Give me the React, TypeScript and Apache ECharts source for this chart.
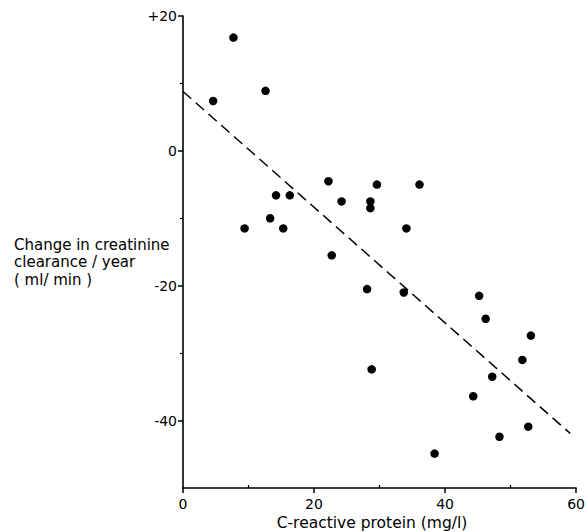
import React, { useEffect, useRef } from "react";
import * as echarts from "echarts";

// C-reactive protein (mg/l)
const crpValues = [
  4.6, 7.7, 12.6, 9.4, 13.3, 14.2, 15.3, 16.3, 22.2, 22.7, 24.2, 28.6, 28.6, 29.6,
  28.1, 34.1, 36.1, 33.7, 45.2, 46.2, 53.1, 51.8, 28.8, 47.2, 44.3, 52.7, 48.3, 38.4,
];
// Change in creatinine clearance / year (ml/min)
const clearanceChange = [
  7.4, 16.8, 8.9, -11.5, -10.0, -6.6, -11.5, -6.6, -4.5, -15.5, -7.5, -7.5, -8.5, -5.0,
  -20.5, -11.5, -5.0, -21.0, -21.5, -24.9, -27.4, -31.0, -32.4, -33.5, -36.4, -40.9, -42.4, -44.9,
];
// Regression line end points
const trendX = [0, 59.1];
const trendY = [8.8, -41.9];

const xMajorTicks = [0, 20, 40, 60];
const xMinorTicks = [10, 30, 50];
const yMajorTicks = [20, 0, -20, -40];
const yMinorTicks = [10, -10, -30];

const yTitleLines = ["Change in creatinine", "clearance / year", "( ml/ min )"];
const xTitle = "C-reactive protein (mg/l)";

const FONT = "DejaVu Sans";

export default function App() {
  const ref = useRef<HTMLDivElement>(null);

  useEffect(() => {
    if (!ref.current) return;
    const chart = echarts.init(ref.current, null, { renderer: "svg" });
    const scatterData = crpValues.map((x, i) => [x, clearanceChange[i]]);
    const lineData = trendX.map((x, i) => [x, trendY[i]]);

    chart.setOption({
      animation: false,
      backgroundColor: "#ffffff",
      grid: { left: 183, right: 8, top: 16, bottom: 44, containLabel: false },
      xAxis: [
        {
          type: "value",
          position: "bottom",
          min: 0,
          max: 60,
          interval: 20,
          axisLine: { show: true, onZero: false, lineStyle: { color: "#000", width: 1.6 } },
          axisTick: { show: true, inside: false, length: 5, customValues: xMajorTicks, lineStyle: { color: "#000", width: 1.5 } },
          axisLabel: { show: true, margin: 9, color: "#000", fontSize: 14, fontFamily: FONT, customValues: xMajorTicks },
          splitLine: { show: false },
        },
        {
          type: "value",
          position: "bottom",
          min: 0,
          max: 60,
          axisLine: { show: false, onZero: false },
          axisTick: { show: true, inside: true, length: 3, customValues: xMinorTicks, lineStyle: { color: "#000", width: 1.2 } },
          axisLabel: { show: false },
          splitLine: { show: false },
        },
      ],
      yAxis: [
        {
          type: "value",
          position: "left",
          min: -50,
          max: 20,
          axisLine: { show: true, onZero: false, lineStyle: { color: "#000", width: 1.6 } },
          axisTick: { show: true, inside: false, length: 5, customValues: yMajorTicks, lineStyle: { color: "#000", width: 1.5 } },
          axisLabel: {
            show: true,
            margin: 6,
            color: "#000",
            fontSize: 14,
            fontFamily: FONT,
            customValues: yMajorTicks,
            formatter: (v: number) => (v > 0 ? "+" + v : String(v)),
          },
          splitLine: { show: false },
        },
        {
          type: "value",
          position: "left",
          min: -50,
          max: 20,
          axisLine: { show: false, onZero: false },
          axisTick: { show: true, inside: false, length: 3, customValues: yMinorTicks, lineStyle: { color: "#000", width: 1.2 } },
          axisLabel: { show: false },
          splitLine: { show: false },
        },
      ],
      series: [
        {
          type: "line",
          data: lineData,
          xAxisIndex: 0,
          yAxisIndex: 0,
          symbol: "none",
          lineStyle: { color: "#000", width: 1.5, type: [11, 6] },
          silent: true,
        },
        {
          type: "scatter",
          data: scatterData,
          xAxisIndex: 0,
          yAxisIndex: 0,
          symbol: "circle",
          symbolSize: 8.5,
          itemStyle: { color: "#000", opacity: 1 },
        },
      ],
      graphic: [
        {
          type: "text",
          left: 14,
          top: 236,
          style: {
            text: yTitleLines.join("\n"),
            fill: "#000",
            font: `15px '${FONT}'`,
            lineHeight: 17.5,
          },
        },
        {
          type: "text",
          x: 372,
          y: 523,
          style: {
            text: xTitle,
            fill: "#000",
            font: `15.5px '${FONT}'`,
            align: "center",
            verticalAlign: "middle",
          },
        },
      ],
    });
    return () => chart.dispose();
  }, []);

  return (
    <div
      ref={ref}
      style={{ position: "fixed", left: 0, top: 0, width: 588, height: 532, background: "#fff" }}
    />
  );
}
